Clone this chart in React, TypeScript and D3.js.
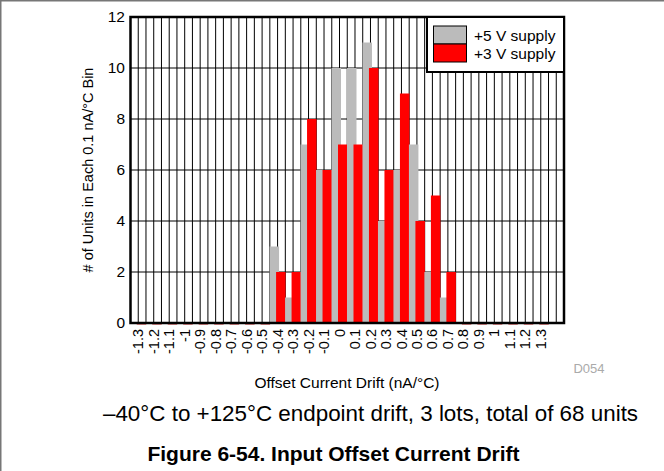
import React from "react";
import * as d3 from "d3";

const categories = ["-1.3","-1.2","-1.1","-1","-0.9","-0.8","-0.7","-0.6","-0.5","-0.4","-0.3","-0.2","-0.1","0","0.1","0.2","0.3","0.4","0.5","0.6","0.7","0.8","0.9","1","1.1","1.2","1.3"];
const supply5V = [0,0,0,0,0,0,0,0,0,3,1,7,6,10,10,11,4,6,7,2,1,0,0,0,0,0,0];
const supply3V = [0,0,0,0,0,0,0,0,0,2,2,8,6,7,7,10,6,9,4,5,2,0,0,0,0,0,0];
const yTicks = [0,2,4,6,8,10,12];
const seriesNames = ["+5 V supply","+3 V supply"];

const W = 664, H = 471;
const L = 130.5, R = 564, T = 17, B = 323;
const FONT = "'Liberation Sans', Arial, sans-serif";

export default function App() {
  const bandKeys = [...categories, "__pad"];
  const x = d3.scaleBand<string>().domain(bandKeys).range([L, R]).padding(0);
  const y = d3.scaleLinear().domain([0, 12]).range([B, T]);
  const step = x.step();
  const barW = 9.5;
  const vLines = d3.range(1, bandKeys.length * 2).map(k => L + k * step / 2);

  return (
    <svg width={W} height={H} style={{ position: "absolute", left: 0, top: 0, background: "#fff" }} fontFamily={FONT}>
      <rect x={0} y={0} width={W} height={H} fill="#fff" />
      {/* outer figure border */}
      <line x1={0} y1={0.75} x2={W} y2={0.75} stroke="#777" strokeWidth={1.5} />
      <line x1={0.75} y1={0} x2={0.75} y2={H} stroke="#777" strokeWidth={1.5} />

      {/* gridlines */}
      {vLines.map((v, i) => (
        <line key={"v" + i} x1={v} x2={v} y1={T} y2={B} stroke="#000" strokeWidth={1} />
      ))}
      {yTicks.slice(1, -1).map(t => (
        <line key={"h" + t} x1={L} x2={R} y1={y(t)} y2={y(t)} stroke="#000" strokeWidth={1} />
      ))}

      {/* bars */}
      {categories.map((c, i) => {
        const cx = (x(c) as number) + step / 2;
        const v5 = supply5V[i], v3 = supply3V[i];
        return (
          <g key={c}>
            {v5 > 0 && <rect x={cx - 8} y={y(v5)} width={barW} height={B - y(v5)} fill="#bbbbbb" />}
            {v3 > 0 && <rect x={cx - 1.5} y={y(v3)} width={barW} height={B - y(v3)} fill="#ff0000" />}
            {v3 === 0 && <rect x={cx - 1.5} y={B} width={barW} height={1.5} fill="#cc2020" />}
          </g>
        );
      })}

      {/* frame */}
      <rect x={L} y={T} width={R - L} height={B - T} fill="none" stroke="#000" strokeWidth={2.5} />

      {/* y tick labels */}
      {yTicks.map(t => (
        <text key={"yt" + t} x={125} y={y(t)} dy="0.35em" textAnchor="end" fontSize={15.5} fill="#000">{t}</text>
      ))}

      {/* x tick labels */}
      {categories.map(c => {
        const cx = (x(c) as number) + step / 2;
        return (
          <text key={"xt" + c} transform={`translate(${cx},${B + 6}) rotate(-90)`} dy="0.35em" textAnchor="end" fontSize={14.5} fill="#000">{c}</text>
        );
      })}

      {/* axis titles */}
      <text transform={`translate(93,${(T + B) / 2}) rotate(-90)`} textAnchor="middle" fontSize={14.5} fill="#000">
        # of Units in Each 0.1 nA/°C Bin
      </text>
      <text x={347} y={388} textAnchor="middle" fontSize={15.5} fill="#000">Offset Current Drift (nA/°C)</text>
      <text x={589} y={373} textAnchor="middle" fontSize={13} fill="#aaa">D054</text>

      {/* legend */}
      <rect x={427} y={T} width={R - 427} height={72 - T} fill="#fff" stroke="#000" strokeWidth={2} />
      <rect x={433.5} y={26} width={33} height={18} fill="#bbbbbb" stroke="#000" strokeWidth={1} />
      <rect x={433.5} y={44} width={33} height={18} fill="#ff0000" stroke="#000" strokeWidth={1} />
      <text x={474} y={41} fontSize={15.5} fill="#000">{seriesNames[0]}</text>
      <text x={474} y={59} fontSize={15.5} fill="#000">{seriesNames[1]}</text>

      {/* captions */}
      <text x={370.5} y={421} textAnchor="middle" fontSize={22.4} fill="#000">–40°C to +125°C endpoint drift, 3 lots, total of 68 units</text>
      <text x={333.5} y={461} textAnchor="middle" fontSize={21} fontWeight="bold" fill="#000">Figure 6-54. Input Offset Current Drift</text>
    </svg>
  );
}
